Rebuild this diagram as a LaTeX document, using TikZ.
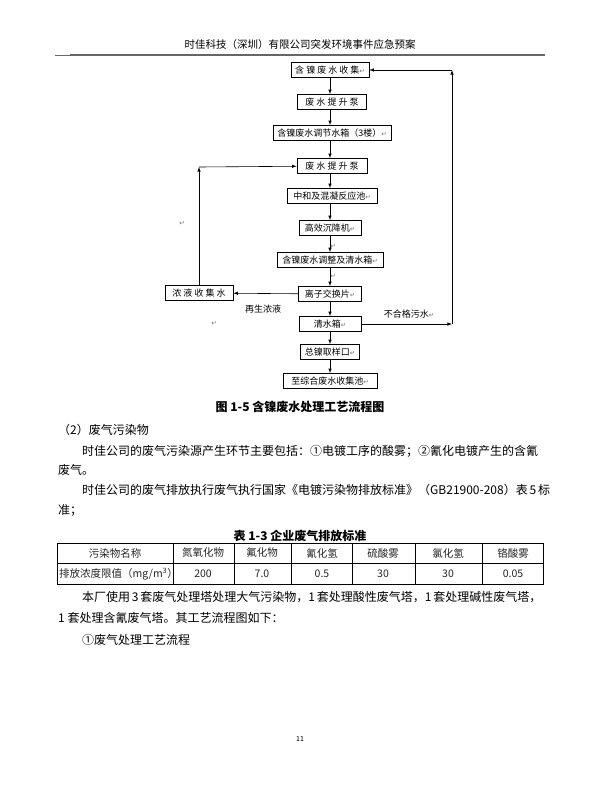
\documentclass[tikz,border=0pt]{standalone}
\usepackage{fontspec}
\setmainfont{Noto Sans CJK SC}
\newfontfamily\retfont{DejaVu Sans}
\usetikzlibrary{arrows}
\XeTeXlinebreaklocale "zh"
\XeTeXlinebreakskip=0pt plus 1pt
\newcommand{\retmark}{{\retfont\fontsize{6.5}{6.5}\selectfont\color{black!55}↵}}
\newcommand{\fillline}[1]{\makebox[458pt][s]{#1}}

\begin{document}
\begin{tikzpicture}[x=1pt,y=-1pt]
	\tikzstyle{every node}+=[inner sep=0pt]
	\tikzstyle{box}=[draw=black,line width=0.7pt,minimum height=15pt,font=\fontsize{9}{10}\selectfont]
	\tikzstyle{flow}=[black,line width=0.6pt,-latex]
	\tikzstyle{txt}=[anchor=west,font=\fontsize{12}{14}\selectfont]
	\tikzstyle{cell}=[font=\fontsize{10.5}{12}\selectfont,text=black!85]
	\fill [white] (0,0) rectangle (600,800);
	\useasboundingbox (0,0) rectangle (600,800);
	\draw (300,45) node (head) {\fontsize{10.5}{12}\selectfont 时佳科技（深圳）有限公司突发环境事件应急预案};
	\draw [black!60,line width=0.8pt] (55,55) -- (70,55);
	\draw [black!60,line width=1.8pt] (70,55) -- (545,55);
	\draw (330,70) node [box,minimum width=78pt] (collect) {含~镍~废~水~收~集\retmark};
	\draw (332,102) node [box,minimum width=69pt] (pumpa) {废~水~提~升~泵};
	\draw (332,133) node [box,minimum width=118pt] (tank) {含镍废水调节水箱（3楼）\retmark};
	\draw (332,166) node [box,minimum width=70pt] (pumpb) {废~水~提~升~泵};
	\draw (332,196) node [box,minimum width=90pt] (react) {中和及混凝反应池\retmark};
	\draw (330,228) node [box,minimum width=62pt] (settle) {高效沉降机\retmark};
	\draw (330,260) node [box,minimum width=106pt] (adjust) {含镍废水调整及清水箱\retmark};
	\draw (330,294) node [box,minimum width=63pt] (ion) {离子交换片\retmark};
	\draw (330,324) node [box,minimum width=62pt] (clear) {清水箱\retmark};
	\draw (330,352) node [box,minimum width=59pt] (sample) {总镍取样口\retmark};
	\draw (330,381) node [box,minimum width=94pt] (pool) {至综合废水收集池\retmark};
	\draw (199,293) node [box,minimum width=68pt] (conc) {浓~液~收~集~水};
	\coordinate (lcorner) at (199,167);
	\coordinate (rlow) at (452,324);
	\coordinate (rtop) at (452,70);
	\draw [flow] (collect) -- (collect |- pumpa.north);
	\draw [flow] (pumpa.south -| collect) -- (tank.north -| collect);
	\draw [flow] (tank.south -| collect) -- (pumpb.north -| collect);
	\draw [flow] (pumpb.south -| collect) -- (react.north -| collect);
	\draw [flow] (react.south -| collect) -- (settle.north);
	\draw [flow] (settle) -- (adjust);
	\draw [flow] (adjust) -- (ion);
	\draw [flow] (ion) -- (clear);
	\draw [flow] (clear) -- (sample);
	\draw [flow] (sample) -- (pool);
	\draw [flow] (ion) -- (conc);
	\draw [flow] (conc) -- (lcorner);
	\draw [flow] (lcorner) -- (pumpb);
	\draw [flow] (clear) -- (rlow);
	\draw [flow] (rlow) -- (rtop);
	\draw [flow] (rtop) -- (collect);
	\draw (263,309) node [font=\fontsize{9}{10}\selectfont] (regen) {再生浓液};
	\draw (409,314) node [font=\fontsize{9}{10}\selectfont] (reject) {不合格污水\retmark};
	\draw (182,223) node (reta) {\retmark};
	\draw (214,323) node (retb) {\retmark};
	\draw (333,246) node (retc) {\retmark};
	\draw (333,276) node (retd) {\retmark};
	\draw (300,407) node (figcap) {\fontsize{12}{14}\selectfont\bfseries 图 1-5 含镍废水处理工艺流程图};
	\draw (58,430) node [txt] (secb) {（2）废气污染物};
	\draw (82,451) node [txt] (paraa) {\fillline{时佳公司的废气污染源产生环节主要包括：①电镀工序的酸雾；②氰化电镀产生的含氰}};
	\draw (58,470) node [txt] (parab) {废气。};
	\draw (82,490) node [txt] (parac) {\fillline{时佳公司的废气排放执行废气执行国家《电镀污染物排放标准》（GB21900-208）表 5 标}};
	\draw (58,510) node [txt] (parad) {准；};
	\draw (300,536) node (tabcap) {\fontsize{12}{14}\selectfont\bfseries 表 1-3 企业废气排放标准};
	\draw [line width=0.9pt] (57,543) rectangle (543,584);
	\draw [line width=0.5pt] (57,563) -- (543,563);
	\foreach \x in {173,234,291,352,415,482}
		\draw [line width=0.5pt] (\x,543) -- (\x,584);
	\draw (115,553) node [cell] (hname) {污染物名称};
	\draw (59,574) node [cell,anchor=west] (hlimit) {排放浓度限值（mg/m\textsuperscript{3}）};
	\foreach \x/\gas/\val in {203/氮氧化物/200,262/氟化物/7.0,322/氰化氢/0.5,383/硫酸雾/30,448/氯化氢/30,513/铬酸雾/0.05}{
		\draw (\x,553) node [cell] {\gas};
		\draw (\x,574) node [cell] {\val};
	}
	\draw (82,597) node [txt] (parae) {\fillline{本厂使用 3 套废气处理塔处理大气污染物，1 套处理酸性废气塔，1 套处理碱性废气塔，}};
	\draw (58,618) node [txt] (paraf) {1 套处理含氰废气塔。其工艺流程图如下：};
	\draw (82,640) node [txt] (parag) {①废气处理工艺流程};
	\draw (300,739) node (pagenum) {\fontsize{7}{8}\selectfont 11};
\end{tikzpicture}
\end{document}
